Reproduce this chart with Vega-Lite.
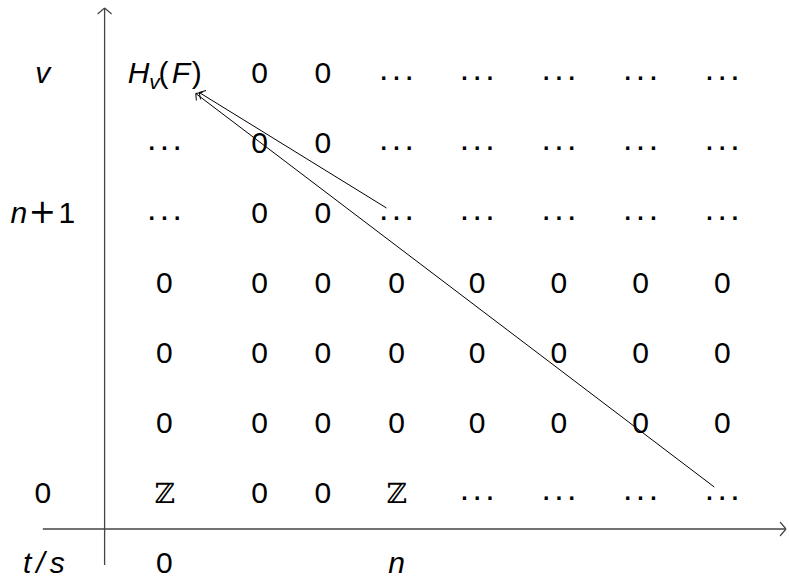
{
  "$schema": "https://vega.github.io/schema/vega-lite/v6.json",
  "width": 789,
  "height": 579,
  "autosize": {"type": "fit", "contains": "padding"},
  "padding": 0,
  "background": "white",
  "config": {"view": {"stroke": null}},
  "datasets": {
    "upright": [
      {"x": 155.5, "y": 446.5, "t": "0"}, {"x": 219, "y": 446.5, "t": "0"},
      {"x": 155.5, "y": 376.5, "t": "0"}, {"x": 219, "y": 376.5, "t": "0"},
      {"x": 155.5, "y": 306.5, "t": "0"}, {"x": 219, "y": 306.5, "t": "0"},
      {"x": 60, "y": 236.5, "t": "0"}, {"x": 155.5, "y": 236.5, "t": "0"}, {"x": 219, "y": 236.5, "t": "0"}, {"x": 293, "y": 236.5, "t": "0"},
      {"x": 374, "y": 236.5, "t": "0"}, {"x": 456, "y": 236.5, "t": "0"}, {"x": 538, "y": 236.5, "t": "0"}, {"x": 620, "y": 236.5, "t": "0"},
      {"x": 60, "y": 166.5, "t": "0"}, {"x": 155.5, "y": 166.5, "t": "0"}, {"x": 219, "y": 166.5, "t": "0"}, {"x": 293, "y": 166.5, "t": "0"},
      {"x": 374, "y": 166.5, "t": "0"}, {"x": 456, "y": 166.5, "t": "0"}, {"x": 538, "y": 166.5, "t": "0"}, {"x": 620, "y": 166.5, "t": "0"},
      {"x": 60, "y": 96.5, "t": "0"}, {"x": 155.5, "y": 96.5, "t": "0"}, {"x": 219, "y": 96.5, "t": "0"}, {"x": 293, "y": 96.5, "t": "0"},
      {"x": 374, "y": 96.5, "t": "0"}, {"x": 456, "y": 96.5, "t": "0"}, {"x": 538, "y": 96.5, "t": "0"}, {"x": 620, "y": 96.5, "t": "0"},
      {"x": 155.5, "y": 26.5, "t": "0"}, {"x": 219, "y": 26.5, "t": "0"},
      {"x": -62, "y": 26.5, "t": "0"},
      {"x": 60, "y": -44, "t": "0"},
      {"x": -38, "y": 306.5, "t": "1"},
      {"x": 59, "y": 446.5, "t": "("},
      {"x": 92.5, "y": 446.5, "t": ")"}
    ],
    "plus": [
      {"x": -62.5, "y": 306.5, "t": "+"}
    ],
    "italic": [
      {"x": -62, "y": 446.5, "t": "v"},
      {"x": -86, "y": 306.5, "t": "n"},
      {"x": -61, "y": -44, "t": "t\u2006/\u2006s"},
      {"x": 293, "y": -44, "t": "n"},
      {"x": 34, "y": 446.5, "t": "H"},
      {"x": 76.5, "y": 446.5, "t": "F"}
    ],
    "subscript": [
      {"x": 50, "y": 440, "t": "v"}
    ],
    "dots": [
      {"x": 293, "y": 446.5}, {"x": 374, "y": 446.5}, {"x": 456, "y": 446.5}, {"x": 538, "y": 446.5}, {"x": 620, "y": 446.5},
      {"x": 60, "y": 376.5}, {"x": 293, "y": 376.5}, {"x": 374, "y": 376.5}, {"x": 456, "y": 376.5}, {"x": 538, "y": 376.5}, {"x": 620, "y": 376.5},
      {"x": 60, "y": 306.5}, {"x": 293, "y": 306.5}, {"x": 374, "y": 306.5}, {"x": 456, "y": 306.5}, {"x": 538, "y": 306.5}, {"x": 620, "y": 306.5},
      {"x": 374, "y": 26.5}, {"x": 456, "y": 26.5}, {"x": 538, "y": 26.5}, {"x": 620, "y": 26.5}
    ],
    "bb": [
      {"x": 60, "y": 26.5, "t": "ℤ"},
      {"x": 293, "y": 26.5, "t": "ℤ"}
    ],
    "axes": [
      {"x": -62, "y": 0, "x2": 684, "y2": 0},
      {"x": 0, "y": -36, "x2": 0, "y2": 521}
    ],
    "arrows": [
      {"x": 612, "y": 42, "x2": 91.5, "y2": 435.5},
      {"x": 283, "y": 321, "x2": 95, "y2": 436.5}
    ],
    "axisheads": [
      {"x": 0, "y": 521, "angle": 270},
      {"x": 684, "y": 0, "angle": 0}
    ],
    "arrowheads": [
      {"x": 91.5, "y": 435.5, "angle": 217},
      {"x": 95, "y": 436.5, "angle": 211.5}
    ]
  },
  "layer": [
    {
      "data": {"name": "axes"},
      "mark": {"type": "rule", "stroke": "#444444", "strokeWidth": 1.3},
      "encoding": {
        "x": {"field": "x", "type": "quantitative", "scale": {"domain": [-105, 684], "nice": false, "zero": false}, "axis": null},
        "y": {"field": "y", "type": "quantitative", "scale": {"domain": [-50, 529], "nice": false, "zero": false}, "axis": null},
        "x2": {"field": "x2"},
        "y2": {"field": "y2"}
      }
    },
    {
      "data": {"name": "arrows"},
      "mark": {"type": "rule", "stroke": "#000000", "strokeWidth": 1},
      "encoding": {
        "x": {"field": "x", "type": "quantitative"},
        "y": {"field": "y", "type": "quantitative"},
        "x2": {"field": "x2"},
        "y2": {"field": "y2"}
      }
    },
    {
      "data": {"name": "axisheads"},
      "mark": {"type": "point", "shape": "M0,0L-0.85,-1M0,0L-0.85,1", "filled": false, "stroke": "#444444", "strokeWidth": 1.2, "size": 196, "opacity": 1},
      "encoding": {
        "x": {"field": "x", "type": "quantitative"},
        "y": {"field": "y", "type": "quantitative"},
        "angle": {"field": "angle", "type": "quantitative", "scale": null}
      }
    },
    {
      "data": {"name": "arrowheads"},
      "mark": {"type": "point", "shape": "M0,0L-0.9,-1M0,0L-0.9,1", "filled": false, "stroke": "#000000", "strokeWidth": 1, "size": 110, "opacity": 1},
      "encoding": {
        "x": {"field": "x", "type": "quantitative"},
        "y": {"field": "y", "type": "quantitative"},
        "angle": {"field": "angle", "type": "quantitative", "scale": null}
      }
    },
    {
      "data": {"name": "upright"},
      "mark": {"type": "text", "font": "Liberation Sans", "fontSize": 30, "align": "center", "baseline": "alphabetic", "color": "#000000"},
      "encoding": {
        "x": {"field": "x", "type": "quantitative"},
        "y": {"field": "y", "type": "quantitative"},
        "text": {"field": "t"}
      }
    },
    {
      "data": {"name": "plus"},
      "mark": {"type": "text", "font": "DejaVu Sans", "fontWeight": "normal", "fontSize": 33, "align": "center", "baseline": "alphabetic", "color": "#000000"},
      "encoding": {
        "x": {"field": "x", "type": "quantitative"},
        "y": {"field": "y", "type": "quantitative"},
        "text": {"field": "t"}
      }
    },
    {
      "data": {"name": "italic"},
      "mark": {"type": "text", "font": "Liberation Sans", "fontStyle": "italic", "fontSize": 30, "align": "center", "baseline": "alphabetic", "color": "#000000"},
      "encoding": {
        "x": {"field": "x", "type": "quantitative"},
        "y": {"field": "y", "type": "quantitative"},
        "text": {"field": "t"}
      }
    },
    {
      "data": {"name": "subscript"},
      "mark": {"type": "text", "font": "Liberation Sans", "fontStyle": "italic", "fontSize": 21, "align": "center", "baseline": "alphabetic", "color": "#000000"},
      "encoding": {
        "x": {"field": "x", "type": "quantitative"},
        "y": {"field": "y", "type": "quantitative"},
        "text": {"value": "v"}
      }
    },
    {
      "data": {"name": "dots"},
      "mark": {"type": "text", "font": "Liberation Sans", "fontWeight": "bold", "fontSize": 23, "align": "center", "baseline": "alphabetic", "dy": -2.5, "color": "#000000"},
      "encoding": {
        "x": {"field": "x", "type": "quantitative"},
        "y": {"field": "y", "type": "quantitative"},
        "text": {"value": ". . ."}
      }
    },
    {
      "data": {"name": "bb"},
      "mark": {"type": "text", "font": "DejaVu Serif", "fontSize": 28, "align": "center", "baseline": "alphabetic", "color": "#000000"},
      "encoding": {
        "x": {"field": "x", "type": "quantitative"},
        "y": {"field": "y", "type": "quantitative"},
        "text": {"field": "t"}
      }
    }
  ]
}
